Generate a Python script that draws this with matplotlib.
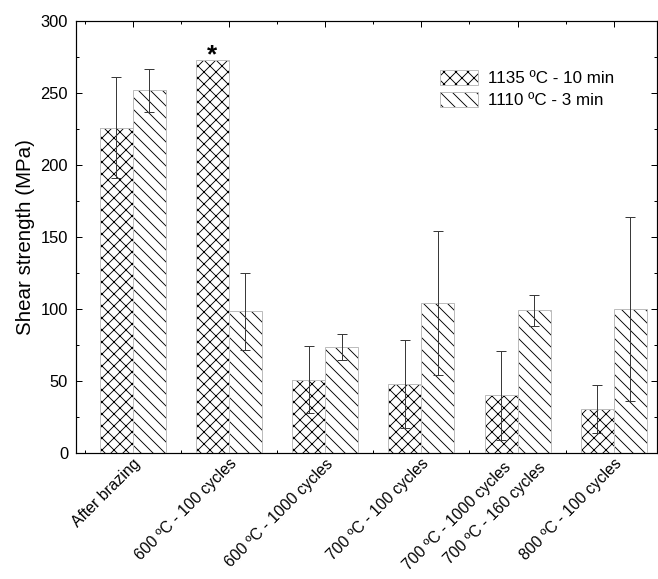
import numpy as np
import matplotlib
matplotlib.use("Agg")
import matplotlib.pyplot as plt
from matplotlib.patches import Patch
from matplotlib.legend_handler import HandlerTuple

plt.rcParams['font.family'] = ['Liberation Sans', 'DejaVu Sans']
plt.rcParams['hatch.linewidth'] = 0.9

# ---- data ----
series_names = ["1135 ºC - 10 min", "1110 ºC - 3 min"]
group_labels = ["After brazing", "600 ºC - 100 cycles", "600 ºC - 1000 cycles",
                "700 ºC - 100 cycles", "", "800 ºC - 100 cycles"]
split_labels = ["700 ºC - 1000 cycles", "700 ºC - 160 cycles"]  # group 5: one label per bar
split_group = 4
s1135 = [226, 273, 51, 48, 40, 30.5]
e1135 = [35, np.nan, 23.4, 30.6, 31, 16.5]
s1110 = [252, 98.4, 73.5, 104, 99, 100]
e1110 = [15, 26.7, 8.8, 50, 11, 64]
hatches = ["xx", "\\\\"]

W, H, DPI = 658, 579, 72
fig = plt.figure(figsize=(W / DPI, H / DPI), dpi=DPI)
ax = fig.add_axes([76 / W, 1 - 453 / H, 581 / W, 432 / H])

x = np.arange(1, len(s1135) + 1)
bw = 0.343
edge_gray = "#bdbdbd"
err_col = "#3a3a3a"
FS = 16.5
FSX = 15.8

handles = []
for i, (vals, errs, hatch) in enumerate([(s1135, e1135, hatches[0]), (s1110, e1110, hatches[1])]):
    xs = x - bw / 2 if i == 0 else x + bw / 2
    ax.bar(xs, vals, width=bw, color="white", edgecolor="black", linewidth=0, hatch=hatch, zorder=2)
    ax.bar(xs, vals, width=bw, fill=False, edgecolor=edge_gray, linewidth=1.0, zorder=3)
    ev = np.array(errs, dtype=float)
    vv = np.array(vals, dtype=float)
    m = np.isfinite(ev)
    ax.errorbar(xs[m], vv[m], yerr=ev[m], fmt="none", ecolor=err_col, elinewidth=1.0,
                capsize=5, capthick=1.0, zorder=4)
    p1 = Patch(facecolor="white", edgecolor="black", linewidth=0, hatch=hatch)
    p2 = Patch(fill=False, edgecolor=edge_gray, linewidth=1.0)
    handles.append((p1, p2))

# star above the 600 ºC - 100 cycles (1135) bar
ax.text(x[1] - bw / 2, s1135[1] - 5.5, "*", ha="center", va="bottom", fontsize=26, fontweight="bold")

ax.set_xlim(0.41, 6.45)
ax.set_ylim(0, 300)
ax.set_yticks(np.arange(0, 301, 50))
ax.set_yticks(np.arange(0, 301, 25), minor=True)
ax.set_xticks(x)
ax.set_xticks(np.arange(0.5, 6.5, 1.0), minor=True)
ax.set_xticklabels(group_labels, rotation=45, ha="right", rotation_mode="anchor", fontsize=FSX)
for xx, lab in zip([x[split_group] - 0.17, x[split_group] + 0.19], split_labels):
    ax.text(xx + 0.02, -0.016, lab, transform=ax.get_xaxis_transform(), rotation=45,
            ha="right", va="top", rotation_mode="anchor", fontsize=FSX)

ax.tick_params(which="both", direction="in", top=True, right=True, width=1.0)
ax.tick_params(axis="y", labelsize=FS)
ax.tick_params(which="major", length=6)
ax.tick_params(which="minor", length=3)
ax.tick_params(axis="x", which="major", pad=3)
ax.tick_params(axis="y", which="major", pad=8)
for s in ax.spines.values():
    s.set_linewidth(1.2)

ax.set_ylabel("Shear strength (MPa)", fontsize=20.5, labelpad=5)

ax.legend(handles, series_names, handler_map={tuple: HandlerTuple(ndivide=1, pad=0)},
          loc="upper left", bbox_to_anchor=((440 - 76) / 581, (453 - 70) / 432),
          frameon=False, fontsize=17, handlelength=2.25, handleheight=1.0,
          handletextpad=0.6, labelspacing=0.3, borderpad=0, borderaxespad=0)

fig.savefig("out.png", dpi=DPI)
